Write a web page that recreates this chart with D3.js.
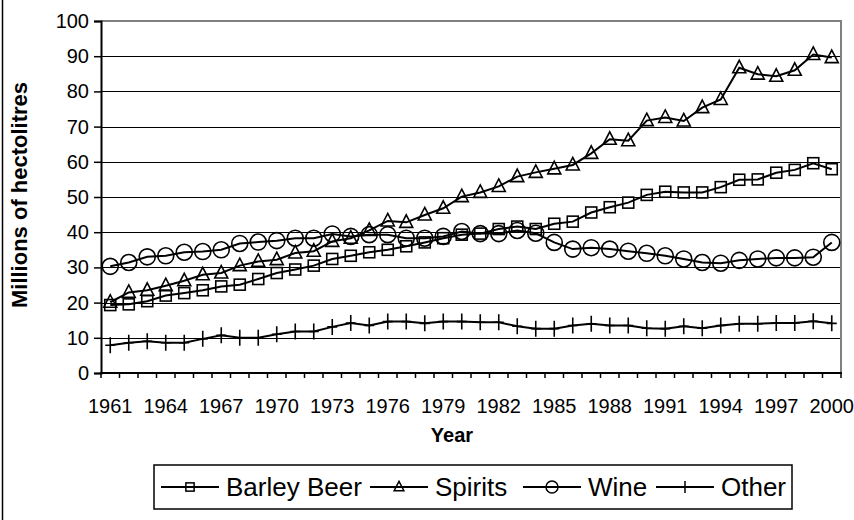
<!DOCTYPE html>
<html>
<head>
<meta charset="utf-8">
<script src="https://cdn.jsdelivr.net/npm/d3@7/dist/d3.min.js"></script>
<style>
  body { margin: 0; background: #fff; }
  svg { display: block; font-family: Arial, "Liberation Sans", sans-serif; }
</style>
</head>
<body>
<svg id="chart" width="854" height="520"></svg>
<script>
// data
var years = d3.range(1961, 2001);
var yearLabels = [1961, 1964, 1967, 1970, 1973, 1976, 1979, 1982, 1985, 1988, 1991, 1994, 1997, 2000];
var yTicks = [0, 10, 20, 30, 40, 50, 60, 70, 80, 90, 100];

var barleyBeer = [19.3, 19.5, 20.4, 22.0, 22.7, 23.5, 24.6, 25.1, 26.7, 28.4,
                  29.4, 30.5, 32.4, 33.3, 34.3, 35.0, 36.0, 37.1, 38.3, 39.3,
                  39.6, 40.9, 41.6, 40.9, 42.4, 43.0, 45.6, 47.1, 48.4, 50.6,
                  51.5, 51.3, 51.3, 52.8, 54.9, 55.0, 56.9, 57.7, 59.6, 57.9];
var spirits = [20.1, 22.9, 23.5, 24.8, 26.2, 27.9, 28.4, 30.5, 31.7, 32.2,
               34.1, 34.6, 37.4, 38.3, 40.5, 43.2, 42.8, 44.9, 46.8, 50.1,
               51.3, 53.0, 55.8, 57.0, 58.0, 59.1, 62.4, 66.4, 66.0, 71.7,
               72.6, 71.6, 75.4, 77.7, 86.7, 84.9, 84.3, 86.0, 90.5, 89.6];
var wine = [30.3, 31.4, 33.0, 33.3, 34.3, 34.5, 35.0, 36.8, 37.2, 37.6,
            38.3, 38.3, 39.5, 38.8, 39.3, 39.3, 38.3, 38.3, 38.8, 40.2,
            39.6, 39.6, 40.5, 39.7, 37.1, 35.2, 35.6, 35.2, 34.6, 34.0,
            33.3, 32.4, 31.4, 31.2, 32.0, 32.4, 32.7, 32.7, 32.9, 37.1];
var other = [7.9, 8.6, 9.0, 8.6, 8.6, 9.7, 10.7, 10.0, 10.0, 11.0,
             11.8, 11.8, 13.1, 14.2, 13.5, 14.6, 14.6, 14.1, 14.6, 14.6,
             14.4, 14.4, 13.3, 12.6, 12.6, 13.5, 14.0, 13.5, 13.5, 12.7,
             12.6, 13.3, 12.7, 13.5, 14.0, 14.0, 14.2, 14.2, 14.7, 14.1];

var seriesNames = ["Barley Beer", "Spirits", "Wine", "Other"];
var seriesData = [barleyBeer, spirits, wine, other];
var seriesMarks = ["square", "triangle", "circle", "plus"];

var svg = d3.select("#chart");
var plotL = 101, plotR = 841, plotT = 21, plotB = 373;

var x = d3.scaleBand().domain(years).range([plotL, plotR]).padding(0);
var y = d3.scaleLinear().domain([0, 100]).range([plotB, plotT]);
var cx = function(yr) { return x(yr) + x.bandwidth() / 2; };

// left edge of the chart frame
svg.append("line")
    .attr("x1", 2.5).attr("x2", 2.5).attr("y1", 0).attr("y2", 520)
    .attr("stroke", "#000").attr("stroke-width", 1.5);

// gridlines
svg.append("g").selectAll("line")
    .data(yTicks.filter(function(d) { return d > 0 && d < 100; }))
    .enter().append("line")
    .attr("x1", plotL).attr("x2", plotR)
    .attr("y1", function(d) { return Math.round(y(d)) + 0.5; })
    .attr("y2", function(d) { return Math.round(y(d)) + 0.5; })
    .attr("stroke", "#000").attr("stroke-width", 1);

// plot frame top/right in grey
svg.append("path")
    .attr("d", "M" + plotL + "," + plotT + "H" + plotR + "V" + plotB)
    .attr("fill", "none").attr("stroke", "#808080").attr("stroke-width", 2);

// y axis
var yAxis = d3.axisLeft(y).tickValues(yTicks).tickSize(7).tickPadding(5);
var gy = svg.append("g").attr("transform", "translate(" + plotL + ",0)").call(yAxis);
gy.select(".domain").attr("stroke-width", 2);
gy.selectAll(".tick line").attr("stroke-width", 1.5);
gy.selectAll("text").attr("font-size", 20).attr("fill", "#000")
    .attr("font-family", "Arial, 'Liberation Sans', sans-serif");

// x axis: ticks on category boundaries, labels every 3 years
var gx = svg.append("g").attr("transform", "translate(0," + plotB + ")");
gx.append("line").attr("x1", plotL - 1).attr("x2", plotR + 1)
    .attr("stroke", "#000").attr("stroke-width", 2);
gx.selectAll(".tk").data(years.concat([2001])).enter().append("line")
    .attr("class", "tk")
    .attr("x1", function(d) { return d === 2001 ? plotR : x(d); })
    .attr("x2", function(d) { return d === 2001 ? plotR : x(d); })
    .attr("y1", 0).attr("y2", 5)
    .attr("stroke", "#000").attr("stroke-width", 1.5);
gx.selectAll(".lbl").data(yearLabels).enter().append("text")
    .attr("class", "lbl")
    .attr("x", function(d) { return cx(d); })
    .attr("y", 40)
    .attr("text-anchor", "middle")
    .attr("font-size", 20)
    .text(function(d) { return d; });

// axis titles
svg.append("text")
    .attr("x", 452).attr("y", 442)
    .attr("text-anchor", "middle")
    .attr("font-size", 20).attr("font-weight", "bold")
    .text("Year");
svg.append("text")
    .attr("transform", "translate(27,195) rotate(-90)")
    .attr("text-anchor", "middle")
    .attr("font-size", 22).attr("font-weight", "bold")
    .text("Millions of hectolitres");

function drawMarker(g, kind) {
    if (kind === "square") {
        g.append("rect").attr("x", -5.5).attr("y", -5.5).attr("width", 11).attr("height", 11);
    } else if (kind === "triangle") {
        g.append("path").attr("d", "M0,-7.5L6.5,5L-6.5,5Z");
    } else if (kind === "circle") {
        g.append("circle").attr("r", 8);
    } else {
        g.append("path").attr("d", "M-5,0H5M0,-8V8");
    }
}

var line = d3.line()
    .x(function(d, i) { return cx(years[i]); })
    .y(function(d) { return y(d); });

seriesData.forEach(function(vals, s) {
    var g = svg.append("g").attr("class", "series");
    g.append("path")
        .attr("d", line(vals))
        .attr("fill", "none").attr("stroke", "#000").attr("stroke-width", 2);
    g.selectAll(".mk").data(vals).enter().append("g")
        .attr("class", "mk")
        .attr("transform", function(d, i) { return "translate(" + cx(years[i]) + "," + y(d) + ")"; })
        .attr("fill", "none").attr("stroke", "#000").attr("stroke-width", 1.6)
        .each(function() { drawMarker(d3.select(this), seriesMarks[s]); });
});

// legend
var lg = svg.append("g");
lg.append("rect")
    .attr("x", 154).attr("y", 465).attr("width", 638).attr("height", 44)
    .attr("fill", "#fff").attr("stroke", "#000").attr("stroke-width", 1.5);
var legendX = [161, 370, 523, 656];
seriesNames.forEach(function(name, s) {
    var it = lg.append("g").attr("transform", "translate(" + legendX[s] + ",487)");
    it.append("line").attr("x1", 0).attr("x2", 58).attr("stroke", "#000").attr("stroke-width", 2);
    var m = it.append("g").attr("transform", "translate(29,0) scale(0.75)")
        .attr("fill", "none").attr("stroke", "#000").attr("stroke-width", 2);
    drawMarker(m, seriesMarks[s]);
    it.append("text").attr("x", 65).attr("y", 9)
        .attr("font-size", 26).text(name);
});
</script>
</body>
</html>
